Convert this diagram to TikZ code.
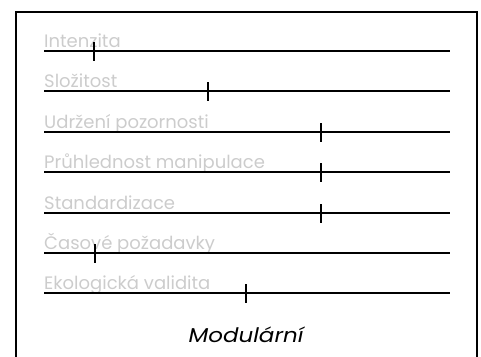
\documentclass[tikz,border=0pt]{standalone}
\usepackage{fontspec}
\setmainfont{Poppins}
\begin{document}
\begin{tikzpicture}[x=1pt,y=-1pt,
  scaleline/.style={line width=1.5pt,black},
  tickmark/.style={line width=1.5pt,black},
  lbl/.style={anchor=base west,inner sep=0pt,text=black!20,font=\fontsize{18}{18}\selectfont},
  frame/.style={line width=2pt,black}]
\useasboundingbox (0,0) rectangle (481,356);
\draw[frame] (16,370) -- (16,12) -- (477,12) -- (477,370);
\foreach \y/\t/\tx [count=\i] in {51/Intenzita/94, 91/Složitost/208, 132/Udržení pozornosti/321, 172/Průhlednost manipulace/321, 213/Standardizace/321, 253/Časové požadavky/95, 293/Ekologická validita/246}{
  \node[lbl] (t\i) at (44,\y-3.5) {\t};
  \coordinate (a\i) at (44,\y);
  \coordinate (b\i) at (450,\y);
  \draw[scaleline] (a\i) -- (b\i);
  \coordinate (m\i) at (\tx,\y);
  \draw[tickmark] ([yshift=9pt]m\i) -- ([yshift=-10pt]m\i);
}
\node[anchor=base,inner sep=0pt,font=\fontsize{20}{20}\selectfont\itshape,xscale=1.15] (title) at (246,342) {Modulární};
\end{tikzpicture}
\end{document}
